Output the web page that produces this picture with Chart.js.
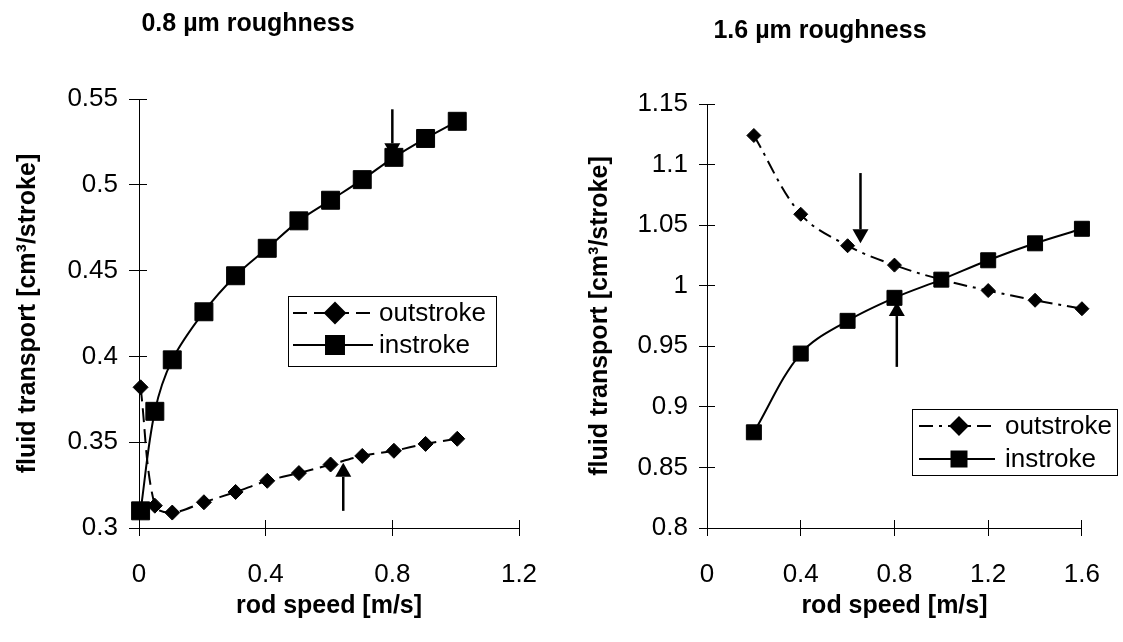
<!DOCTYPE html>
<html>
<head>
<meta charset="utf-8">
<script src="https://cdn.jsdelivr.net/npm/chart.js@4"></script>
<style>
  html, body { margin: 0; padding: 0; background: #fff; }
  #wrap { position: relative; width: 1123px; height: 642px; overflow: hidden; font-family: 'Liberation Sans', Arial, sans-serif; }
  canvas { position: absolute; top: 0; }
  .title { position: absolute; font-weight: bold; font-size: 25px; transform: translate(-50%, -50%); white-space: nowrap; color: #000; }
</style>
</head>
<body>
<div id="wrap">
  <canvas id="left" width="561" height="642" style="left:0;width:561px;height:642px"></canvas>
  <canvas id="right" width="562" height="642" style="left:561px;width:562px;height:642px"></canvas>
  <div class="title" style="left:248px;top:22px">0.8 µm roughness</div>
  <div class="title" style="left:820px;top:29px">1.6 µm roughness</div>
</div>
<script>
'use strict';

const FONT = "'Liberation Sans', Arial, sans-serif";

// 0.8 µm roughness
const speedLeft = [0.005, 0.05, 0.105, 0.205, 0.305, 0.405, 0.505, 0.605, 0.705, 0.805, 0.905, 1.005];
const outLeft = [0.382, 0.313, 0.309, 0.315, 0.321, 0.3275, 0.332, 0.337, 0.342, 0.345, 0.349, 0.352];
const inLeft = [0.31, 0.368, 0.398, 0.426, 0.447, 0.463, 0.479, 0.491, 0.503, 0.516, 0.527, 0.537];
const xTicksLeft = [0, 0.4, 0.8, 1.2];
const yTicksLeft = [0.3, 0.35, 0.4, 0.45, 0.5, 0.55];
// arrows: x position, tail value, tip value
const arrowsLeft = [
  { x: 0.8, from: 0.544, to: 0.516 },
  { x: 0.645, from: 0.31, to: 0.338 }
];

// 1.6 µm roughness
const speedRight = [0.2, 0.4, 0.6, 0.8, 1.0, 1.2, 1.4, 1.6];
const outRight = [1.124, 1.059, 1.033, 1.017, 1.005, 0.996, 0.988, 0.981];
const inRight = [0.879, 0.944, 0.971, 0.990, 1.005, 1.021, 1.035, 1.047];
const xTicksRight = [0, 0.4, 0.8, 1.2, 1.6];
const yTicksRight = [0.8, 0.85, 0.9, 0.95, 1, 1.05, 1.1, 1.15];
const arrowsRight = [
  { x: 0.655, from: 1.093, to: 1.035 },
  { x: 0.81, from: 0.933, to: 0.9865 }
];

const fmt = v => String(+v.toFixed(2));
const pts = (xs, ys) => xs.map((x, i) => ({ x: x, y: ys[i] }));

const alignPx = p => Math.round(p - 0.5) + 0.5;

// tick marks that cross the axis: the part inside the plot
const innerTicks = {
  id: 'innerTicks',
  beforeDatasetsDraw(chart, args, opts) {
    const { ctx, chartArea: a } = chart;
    const xs = chart.scales.x, ys = chart.scales.y;
    ctx.save();
    ctx.strokeStyle = '#000';
    ctx.lineWidth = 1;
    ctx.beginPath();
    xs.ticks.forEach(t => {
      const p = alignPx(xs.getPixelForValue(t.value));
      ctx.moveTo(p, a.bottom);
      ctx.lineTo(p, a.bottom - opts.x);
    });
    ys.ticks.forEach(t => {
      const p = alignPx(ys.getPixelForValue(t.value));
      ctx.moveTo(a.left, p);
      ctx.lineTo(a.left + opts.y, p);
    });
    ctx.stroke();
    ctx.restore();
  }
};

const arrows = {
  id: 'arrows',
  afterDatasetsDraw(chart, args, opts) {
    const { ctx } = chart;
    const xs = chart.scales.x, ys = chart.scales.y;
    ctx.save();
    ctx.strokeStyle = '#000';
    ctx.fillStyle = '#000';
    ctx.lineWidth = 2.5;
    (opts.list || []).forEach(a => {
      const px = xs.getPixelForValue(a.x);
      const y1 = ys.getPixelForValue(a.from);
      const y2 = ys.getPixelForValue(a.to);
      const dir = y2 > y1 ? 1 : -1;
      const head = 14, half = 8;
      ctx.beginPath();
      ctx.moveTo(px, y1);
      ctx.lineTo(px, y2 - dir * head);
      ctx.stroke();
      ctx.beginPath();
      ctx.moveTo(px, y2);
      ctx.lineTo(px - half, y2 - dir * head);
      ctx.lineTo(px + half, y2 - dir * head);
      ctx.closePath();
      ctx.fill();
    });
    ctx.restore();
  }
};

const boxLegend = {
  id: 'boxLegend',
  afterDraw(chart, args, o) {
    const { ctx, chartArea: a } = chart;
    const x0 = a.left + o.x, y0 = a.top + o.y;
    ctx.save();
    ctx.fillStyle = '#fff';
    ctx.fillRect(x0, y0, o.w, o.h);
    ctx.strokeStyle = '#000';
    ctx.lineWidth = 1;
    ctx.strokeRect(Math.round(x0) + 0.5, Math.round(y0) + 0.5, o.w, o.h);
    ctx.font = '26px ' + FONT;
    ctx.textBaseline = 'middle';
    o.items.forEach((idx, i) => {
      const ds = chart.data.datasets[idx];
      const y = y0 + o.rows[i];
      ctx.strokeStyle = '#000';
      ctx.lineWidth = ds.borderWidth;
      ctx.setLineDash(ds.borderDash || []);
      ctx.beginPath();
      ctx.moveTo(x0 + o.line[0], y);
      ctx.lineTo(x0 + o.line[1], y);
      ctx.stroke();
      ctx.setLineDash([]);
      ctx.fillStyle = '#000';
      Chart.helpers.drawPoint(ctx, { pointStyle: ds.pointStyle, radius: o.radius[i], borderWidth: 1 }, x0 + o.mark, y);
      ctx.fillStyle = '#000';
      ctx.fillText(ds.label, x0 + o.text, y + 1);
    });
    ctx.restore();
  }
};

function makeChart(id, cfg) {
  return new Chart(document.getElementById(id), {
    type: 'line',
    data: {
      datasets: [{
        label: 'outstroke',
        data: pts(cfg.speed, cfg.out),
        borderColor: '#000',
        backgroundColor: '#000',
        borderWidth: 2,
        borderDash: cfg.dash,
        pointStyle: 'rectRot',
        pointRadius: cfg.diamond,
        pointBorderWidth: 1,
        tension: 0.35,
        clip: false,
        order: 1
      }, {
        label: 'instroke',
        data: pts(cfg.speed, cfg.inn),
        borderColor: '#000',
        backgroundColor: '#000',
        borderWidth: 2,
        pointStyle: 'rect',
        pointRadius: cfg.square,
        pointBorderWidth: 1,
        tension: 0.35,
        clip: false,
        order: 0
      }]
    },
    options: {
      responsive: false,
      animation: false,
      devicePixelRatio: 1,
      layout: { padding: cfg.pad },
      plugins: {
        legend: { display: false },
        tooltip: { enabled: false },
        innerTicks: { x: 8, y: 8 },
        arrows: { list: cfg.arrows },
        boxLegend: cfg.legend
      },
      scales: {
        x: {
          type: 'linear',
          min: cfg.xTicks[0],
          max: cfg.xTicks[cfg.xTicks.length - 1],
          afterBuildTicks: s => { s.ticks = cfg.xTicks.map(v => ({ value: v })); },
          afterFit: s => { s.height = 114; },
          border: { color: '#000', width: 1 },
          grid: { drawOnChartArea: false, color: '#000', tickLength: 8 },
          ticks: { color: '#000', font: { family: FONT, size: 26 }, padding: 23, maxRotation: 0, callback: fmt },
          title: { display: true, text: 'rod speed [m/s]', color: '#000', font: { family: FONT, size: 25, weight: 'bold' }, padding: { top: 0, bottom: 21 } }
        },
        y: {
          type: 'linear',
          min: cfg.yTicks[0],
          max: cfg.yTicks[cfg.yTicks.length - 1],
          afterBuildTicks: s => { s.ticks = cfg.yTicks.map(v => ({ value: v })); },
          afterFit: s => { s.width = cfg.yWidth; },
          border: { color: '#000', width: 1 },
          grid: { drawOnChartArea: false, color: '#000', tickLength: cfg.yTick },
          ticks: { color: '#000', font: { family: FONT, size: 26 }, padding: 11, callback: fmt },
          title: { display: true, text: 'fluid transport [cm³/stroke]', color: '#000', font: { family: FONT, size: 25, weight: 'bold' }, padding: { top: cfg.yTitlePad, bottom: 0 } }
        }
      }
    },
    plugins: [innerTicks, arrows, boxLegend]
  });
}

makeChart('left', {
  speed: speedLeft, out: outLeft, inn: inLeft,
  xTicks: xTicksLeft, yTicks: yTicksLeft, arrows: arrowsLeft,
  dash: [14, 7], diamond: 7.5, square: 12.7,
  pad: { top: 99, right: 42, bottom: 0, left: 0 },
  yWidth: 139, yTick: 10, yTitlePad: 13,
  legend: { x: 149, y: 197, w: 208, h: 70, rows: [17, 49], line: [5, 85], mark: 47, text: 91, radius: [10, 12.7], items: [0, 1] }
});

makeChart('right', {
  speed: speedRight, out: outRight, inn: inRight,
  xTicks: xTicksRight, yTicks: yTicksRight, arrows: arrowsRight,
  dash: [14, 6, 3, 6], diamond: 7, square: 10.6,
  pad: { top: 104, right: 34, bottom: 0, left: 0 },
  yWidth: 146, yTick: 8, yTitlePad: 24,
  legend: { x: 205, y: 305, w: 205, h: 66, rows: [17, 50], line: [7, 83], mark: 47, text: 93, radius: [8.5, 10.6], items: [0, 1] }
});
</script>
</body>
</html>
